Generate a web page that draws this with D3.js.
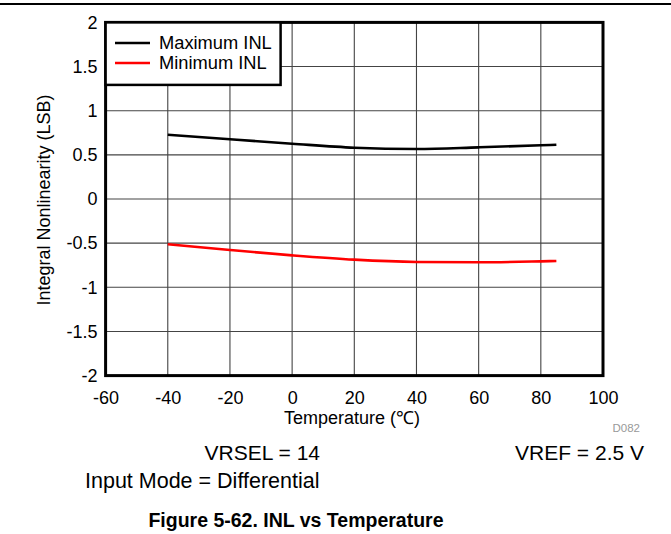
<!DOCTYPE html>
<html>
<head>
<meta charset="utf-8">
<script src="https://cdn.jsdelivr.net/npm/d3@7"></script>
<style>
  html, body { margin: 0; padding: 0; background: #fff; }
  svg { display: block; font-family: "Liberation Sans", Arial, sans-serif; }
</style>
</head>
<body>
<svg id="chart" width="671" height="534"></svg>
<script>
// ---- data ----
const temperatures = [-40, -20, 0, 20, 40, 60, 80, 85];
const maxINL = [0.728, 0.676, 0.626, 0.581, 0.566, 0.585, 0.608, 0.615];
const minINL = [-0.513, -0.578, -0.638, -0.687, -0.713, -0.717, -0.706, -0.702];
const xTicks = [-60, -40, -20, 0, 20, 40, 60, 80, 100];
const yTicks = [-2, -1.5, -1, -0.5, 0, 0.5, 1, 1.5, 2];
const seriesNames = ["Maximum INL", "Minimum INL"];
const seriesColors = ["#000000", "#ff0000"];

const svg = d3.select("#chart");
const W = 671, H = 534;

// top rule
svg.append("line").attr("x1", 0).attr("x2", W).attr("y1", 4).attr("y2", 4)
  .attr("stroke", "#000").attr("stroke-width", 2);

const x = d3.scaleLinear().domain([-60, 100]).range([105.6, 603]);
const y = d3.scaleLinear().domain([-2, 2]).range([375.6, 22.4]);

// grid
const grid = svg.append("g");
grid.selectAll("line.v").data(xTicks.slice(1, -1)).join("line")
  .attr("x1", d => x(d)).attr("x2", d => x(d))
  .attr("y1", y(2)).attr("y2", y(-2))
  .attr("stroke", "#444").attr("stroke-width", 1.1);
grid.selectAll("line.h").data(yTicks.slice(1, -1)).join("line")
  .attr("x1", x(-60)).attr("x2", x(100))
  .attr("y1", d => y(d)).attr("y2", d => y(d))
  .attr("stroke", "#444").attr("stroke-width", 1.1);

// axes (labels only)
const xAxis = d3.axisBottom(x).tickValues(xTicks).tickSize(0).tickPadding(0).tickFormat(d => String(d));
const gx = svg.append("g").attr("transform", `translate(0,${y(-2)})`).call(xAxis);
gx.select(".domain").remove();
gx.selectAll("text").attr("font-size", 18).attr("fill", "#000")
  .attr("dy", null).attr("y", 28);

const yAxis = d3.axisLeft(y).tickValues(yTicks).tickSize(0).tickPadding(8).tickFormat(d => String(d));
const gy = svg.append("g").attr("transform", `translate(${x(-60)},0)`).call(yAxis);
gy.select(".domain").remove();
gy.selectAll("text").attr("font-size", 18).attr("fill", "#000");

// lines
const line = d3.line().x((d, i) => x(temperatures[i])).y(d => y(d)).curve(d3.curveMonotoneX);
[maxINL, minINL].forEach((s, k) => {
  svg.append("path").datum(s).attr("d", line).attr("fill", "none")
    .attr("stroke", seriesColors[k]).attr("stroke-width", 2.6);
});

// frame
svg.append("rect").attr("x", x(-60)).attr("y", y(2))
  .attr("width", x(100) - x(-60)).attr("height", y(-2) - y(2))
  .attr("fill", "none").attr("stroke", "#000").attr("stroke-width", 3);

// legend
const lg = svg.append("g");
lg.append("rect").attr("x", x(-60)).attr("y", y(2))
  .attr("width", 175).attr("height", 62.5)
  .attr("fill", "#fff").attr("stroke", "#000").attr("stroke-width", 2.5);
seriesNames.forEach((n, k) => {
  const yy = 43 + k * 20;
  lg.append("line").attr("x1", 115).attr("x2", 150).attr("y1", yy).attr("y2", yy)
    .attr("stroke", seriesColors[k]).attr("stroke-width", 2.6);
  lg.append("text").attr("x", 159).attr("y", yy).attr("dy", "0.35em")
    .attr("font-size", 18.3).text(n);
});

// axis titles
svg.append("text").attr("transform", "translate(50,200) rotate(-90)")
  .attr("text-anchor", "middle").attr("font-size", 18)
  .text("Integral Nonlinearity (LSB)");
svg.append("text").attr("x", 352).attr("y", 424).attr("text-anchor", "middle")
  .attr("font-size", 18).text("Temperature (\u2103)");
svg.append("text").attr("x", 640).attr("y", 432).attr("text-anchor", "end")
  .attr("font-size", 11.5).attr("fill", "#999").text("D082");

// notes
svg.append("text").attr("x", 320).attr("y", 460).attr("text-anchor", "end")
  .attr("font-size", 21).text("VRSEL = 14");
svg.append("text").attr("x", 644).attr("y", 460).attr("text-anchor", "end")
  .attr("font-size", 21).text("VREF = 2.5 V");
svg.append("text").attr("x", 85).attr("y", 488)
  .attr("font-size", 21.5).text("Input Mode = Differential");
svg.append("text").attr("x", 296).attr("y", 527).attr("text-anchor", "middle")
  .attr("font-size", 19.5).attr("font-weight", "bold")
  .text("Figure 5-62. INL vs Temperature");
</script>
</body>
</html>
